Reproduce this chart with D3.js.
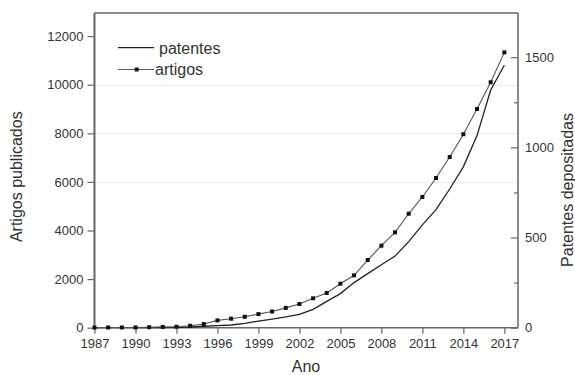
<!DOCTYPE html>
<html>
<head>
<meta charset="utf-8">
<script src="https://cdn.jsdelivr.net/npm/d3@7.9.0/dist/d3.min.js"></script>
<style>
  body { margin: 0; background: #fff; }
  svg { display: block; font-family: "Liberation Sans", Arial, sans-serif; }
</style>
</head>
<body>
<svg id="chart" width="575" height="375"></svg>
<script>
const years = d3.range(1987, 2018);
const artigos = [5, 10, 10, 10, 20, 30, 40, 80, 150, 300, 370, 450, 560, 665, 815,
  975, 1210, 1430, 1810, 2155, 2785, 3375, 3925, 4690, 5380, 6160, 7025, 7960, 9000, 10100, 11330];
const patentes = [0, 0, 0, 0, 0, 1, 2, 4, 8, 11, 15, 24, 37, 48, 60,
  74, 102, 146, 189, 250, 300, 349, 397, 477, 570, 655, 769, 892, 1065, 1318, 1455];

const xTicks = d3.range(1987, 2018, 3);
const leftTicks = [0, 2000, 4000, 6000, 8000, 10000, 12000];
const rightTicks = [0, 500, 1000, 1500];
const rightMinor = [250, 750, 1250];
const gridValues = [6000, 8000, 10000];

const svg = d3.select('#chart');
const textColor = '#333';
const axisColor = '#666';

const plotLeft = 94.5, plotRight = 518, plotTop = 13, plotBottom = 327.7;

const x = d3.scaleLinear().domain([1987, 2018]).range([plotLeft, plotRight]);
const yL = d3.scaleLinear().domain([0, 12950]).range([plotBottom, plotTop]);
const yR = d3.scaleLinear().domain([0, 1745]).range([plotBottom, plotTop]);

// gridlines
svg.append('g').selectAll('line').data(gridValues).join('line')
  .attr('x1', plotLeft).attr('x2', plotRight)
  .attr('y1', d => Math.round(yL(d)) + 0.5).attr('y2', d => Math.round(yL(d)) + 0.5)
  .attr('stroke', '#d4d4d4').attr('stroke-width', 1)
  .attr('stroke-dasharray', '1,1');

// axes
const styleAxis = (g) => {
  g.select('.domain').remove();
  g.selectAll('.tick line').attr('stroke', axisColor).attr('stroke-width', 1.2);
  g.selectAll('.tick text').attr('fill', textColor).style('font-size', '13px');
};

svg.append('g')
  .attr('transform', `translate(0,${plotBottom})`)
  .call(d3.axisBottom(x).tickValues(xTicks).tickFormat(d3.format('d')).tickSize(6).tickPadding(5))
  .call(styleAxis);

svg.append('g')
  .attr('transform', `translate(${plotLeft},0)`)
  .call(d3.axisLeft(yL).tickValues(leftTicks).tickFormat(d3.format('d')).tickSize(7).tickPadding(4))
  .call(styleAxis);

svg.append('g')
  .attr('transform', `translate(${plotRight},0)`)
  .call(d3.axisRight(yR).tickValues(rightMinor).tickFormat('').tickSize(-4))
  .call(styleAxis);

svg.append('g')
  .attr('transform', `translate(${plotRight},0)`)
  .call(d3.axisRight(yR).tickValues(rightTicks).tickFormat(d3.format('d')).tickSize(-7).tickPadding(7))
  .call(styleAxis);

// frame
svg.append('line').attr('x1', plotLeft).attr('x2', plotRight).attr('y1', plotTop).attr('y2', plotTop)
  .attr('stroke', axisColor).attr('stroke-width', 1.3);
svg.append('line').attr('x1', plotLeft).attr('x2', plotRight).attr('y1', plotBottom).attr('y2', plotBottom)
  .attr('stroke', axisColor).attr('stroke-width', 1.6);
svg.append('line').attr('x1', plotLeft).attr('x2', plotLeft).attr('y1', plotTop).attr('y2', plotBottom)
  .attr('stroke', axisColor).attr('stroke-width', 2);
svg.append('line').attr('x1', plotRight).attr('x2', plotRight).attr('y1', plotTop).attr('y2', plotBottom)
  .attr('stroke', axisColor).attr('stroke-width', 1.5);

// series
const lineArt = d3.line().x((d, i) => x(years[i])).y(d => yL(d));
const linePat = d3.line().x((d, i) => x(years[i])).y(d => yR(d));

svg.append('path').attr('d', linePat(patentes))
  .attr('fill', 'none').attr('stroke', '#222').attr('stroke-width', 1.3);

svg.append('path').attr('d', lineArt(artigos))
  .attr('fill', 'none').attr('stroke', '#555').attr('stroke-width', 1.1);

svg.append('g').selectAll('rect').data(artigos).join('rect')
  .attr('x', (d, i) => x(years[i]) - 2)
  .attr('y', d => yL(d) - 2)
  .attr('width', 4).attr('height', 4)
  .attr('fill', '#111');

// legend
svg.append('line').attr('x1', 118).attr('x2', 154).attr('y1', 47.7).attr('y2', 47.7)
  .attr('stroke', '#222').attr('stroke-width', 1.3);
svg.append('text').attr('x', 159).attr('y', 53.5).text('patentes')
  .attr('fill', textColor).style('font-size', '16px');
svg.append('line').attr('x1', 118).attr('x2', 154).attr('y1', 69.5).attr('y2', 69.5)
  .attr('stroke', '#555').attr('stroke-width', 1.1);
svg.append('rect').attr('x', 134.7).attr('y', 67.5).attr('width', 4).attr('height', 4).attr('fill', '#111');
svg.append('text').attr('x', 155).attr('y', 74.5).text('artigos')
  .attr('fill', textColor).style('font-size', '16px');

// axis titles
svg.append('text').attr('x', 306).attr('y', 372).attr('text-anchor', 'middle')
  .text('Ano').attr('fill', textColor).style('font-size', '16px');
svg.append('text').attr('transform', 'translate(21.6,176.7) rotate(-90)').attr('text-anchor', 'middle')
  .text('Artigos publicados').attr('fill', textColor).style('font-size', '16px');
svg.append('text').attr('transform', 'translate(573.2,190) rotate(-90)').attr('text-anchor', 'middle')
  .text('Patentes depositadas').attr('fill', textColor).style('font-size', '16px');
</script>
</body>
</html>
